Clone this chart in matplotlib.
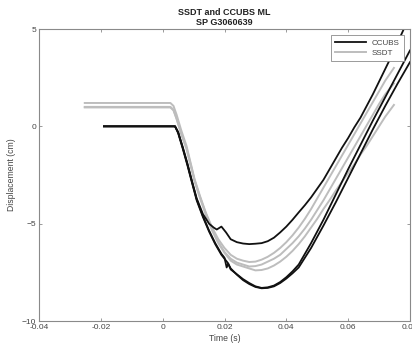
import matplotlib
matplotlib.use("Agg")
import matplotlib.pyplot as plt

plt.rcParams['font.family'] = ['Liberation Sans', 'DejaVu Sans']

# CCUBS runs (black)
ccubs1_t = [-0.019, 0.0, 0.004, 0.005, 0.0065, 0.008, 0.0094, 0.011, 0.013, 0.015,
            0.0165, 0.0175, 0.019, 0.0205, 0.022, 0.024, 0.026, 0.028, 0.030, 0.032,
            0.034, 0.036, 0.038, 0.040, 0.042, 0.044, 0.046, 0.048, 0.050, 0.052,
            0.054, 0.056, 0.058, 0.060, 0.062, 0.064, 0.066, 0.068, 0.070, 0.072,
            0.074, 0.076, 0.078, 0.080]
ccubs1_d = [0.0, 0.0, 0.0, -0.3, -1.07, -1.9, -2.76, -3.7, -4.5, -5.0,
            -5.2, -5.3, -5.15, -5.45, -5.8, -5.95, -6.02, -6.05, -6.03, -6.0,
            -5.9, -5.72, -5.45, -5.15, -4.8, -4.42, -4.05, -3.65, -3.2, -2.75,
            -2.2, -1.65, -1.1, -0.6, -0.05, 0.45, 1.05, 1.65, 2.3, 2.95,
            3.6, 4.3, 5.0, 5.7]

ccubs2_t = [-0.019, 0.0, 0.004, 0.005, 0.0065, 0.008, 0.0094, 0.011, 0.013, 0.015,
            0.017, 0.019, 0.020, 0.0207, 0.0212, 0.022, 0.024, 0.026, 0.028, 0.030,
            0.032, 0.034, 0.036, 0.038, 0.040, 0.042, 0.044, 0.048, 0.052, 0.056,
            0.060, 0.064, 0.068, 0.072, 0.076, 0.080]
ccubs2_d = [0.0, 0.0, 0.0, -0.3, -1.1, -1.95, -2.8, -3.75, -4.6, -5.35,
            -6.0, -6.55, -6.75, -7.25, -7.05, -7.35, -7.6, -7.85, -8.05, -8.22,
            -8.3, -8.27, -8.18, -8.0, -7.75, -7.45, -7.1, -6.0, -4.8, -3.5,
            -2.2, -0.95, 0.3, 1.5, 2.7, 3.9]

ccubs3_t = [-0.019, 0.0, 0.004, 0.005, 0.0065, 0.008, 0.0094, 0.011, 0.013, 0.015,
            0.017, 0.019, 0.021, 0.022, 0.024, 0.026, 0.028, 0.030, 0.032, 0.034,
            0.036, 0.038, 0.040, 0.042, 0.044, 0.048, 0.052, 0.056, 0.060, 0.064,
            0.068, 0.072, 0.076, 0.080]
ccubs3_d = [0.0, 0.0, 0.0, -0.35, -1.15, -2.0, -2.85, -3.8, -4.65, -5.4,
            -6.05, -6.6, -7.0, -7.3, -7.62, -7.9, -8.1, -8.25, -8.32, -8.3,
            -8.22, -8.05, -7.82, -7.55, -7.25, -6.25, -5.1, -3.9, -2.65, -1.4,
            -0.15, 1.05, 2.2, 3.3]

# SSDT runs (gray), shared time base
ssdt_t = [-0.0252, 0.0, 0.0025, 0.0035, 0.0045, 0.006, 0.0077, 0.0103, 0.012, 0.014,
          0.016, 0.018, 0.020, 0.022, 0.024, 0.026, 0.028, 0.030, 0.032, 0.034,
          0.036, 0.038, 0.040, 0.042, 0.044, 0.046, 0.048, 0.050, 0.052, 0.054,
          0.056, 0.058, 0.060, 0.062, 0.064, 0.066, 0.068, 0.070, 0.072, 0.0748]
ssdt1_d = [1.2, 1.2, 1.2, 1.05, 0.6, -0.2, -1.0, -2.7, -3.55, -4.45,
           -5.2, -5.8, -6.25, -6.6, -6.8, -6.9, -6.97, -6.95, -6.85, -6.7,
           -6.5, -6.25, -5.95, -5.6, -5.2, -4.75, -4.25, -3.7, -3.15, -2.6,
           -2.05, -1.5, -0.95, -0.4, 0.15, 0.7, 1.25, 1.8, 2.35, 3.0]
ssdt2_d = [1.0, 1.0, 1.0, 0.85, 0.4, -0.35, -1.1, -2.76, -3.6, -4.5,
           -5.3, -5.95, -6.45, -6.8, -7.0, -7.1, -7.2, -7.18, -7.1, -6.95,
           -6.8, -6.6, -6.3, -6.0, -5.65, -5.25, -4.8, -4.3, -3.8, -3.25,
           -2.7, -2.15, -1.6, -1.05, -0.5, 0.05, 0.6, 1.15, 1.65, 2.2]
ssdt3_d = [0.97, 0.97, 0.97, 0.82, 0.38, -0.4, -1.15, -2.8, -3.65, -4.55,
           -5.35, -6.0, -6.5, -6.9, -7.1, -7.2, -7.3, -7.4, -7.38, -7.3,
           -7.15, -6.95, -6.7, -6.4, -6.05, -5.65, -5.2, -4.75, -4.25, -3.79,
           -3.3, -2.85, -2.4, -1.95, -1.45, -1.0, -0.5, 0.0, 0.5, 1.1]

x_ticks = [-0.04, -0.02, 0, 0.02, 0.04, 0.06, 0.08]
x_ticklabels = ["-0.04", "-0.02", "0", "0.02", "0.04", "0.06", "0.08"]
y_ticks = [-10, -5, 0, 5]

BLACK = "#111111"
GRAY = "#bdbdbd"
AXIS = "#8a8a8a"
TEXT = "#444444"

fig = plt.figure(figsize=(4.12, 3.49), dpi=100)
ax = fig.add_axes([39 / 412, 28 / 349, 371 / 412, 292 / 349])

for d in (ssdt1_d, ssdt2_d, ssdt3_d):
    ax.plot(ssdt_t, d, color=GRAY, lw=1.4, label="SSDT" if d is ssdt1_d else None)
ax.plot(ccubs1_t, ccubs1_d, color=BLACK, lw=1.3, label="CCUBS")
ax.plot(ccubs2_t, ccubs2_d, color=BLACK, lw=1.3)
ax.plot(ccubs3_t, ccubs3_d, color=BLACK, lw=1.3)

ax.set_xlim(-0.04, 0.08)
ax.set_ylim(-10, 5)
ax.set_xticks(x_ticks)
ax.set_xticklabels(x_ticklabels)
ax.set_yticks(y_ticks)
ax.tick_params(direction="in", length=2.5, width=0.6, colors=AXIS,
               labelcolor=TEXT, labelsize=6, top=True, right=True, pad=2)
for s in ax.spines.values():
    s.set_color(AXIS)
    s.set_linewidth(0.8)

ax.set_xlabel("Time (s)", fontsize=6.2, color=TEXT, labelpad=2)
ax.set_ylabel("Displacement (cm)", fontsize=6.2, color=TEXT, labelpad=4)
ax.set_title("SSDT and CCUBS ML\nSP G3060639", fontsize=6.5, fontweight="bold",
             color="#222222", pad=3, linespacing=1.15)

handles, labels = ax.get_legend_handles_labels()
order = [labels.index("CCUBS"), labels.index("SSDT")]
leg = ax.legend([handles[i] for i in order], [labels[i] for i in order],
                loc="upper right", fontsize=5.8, fancybox=False, framealpha=1,
                edgecolor=AXIS, handlelength=3.8, borderaxespad=0.8,
                labelspacing=0.35, borderpad=0.45)
leg.get_frame().set_linewidth(0.6)
for t in leg.get_texts():
    t.set_color(TEXT)

fig.savefig("out.png", dpi=100)
